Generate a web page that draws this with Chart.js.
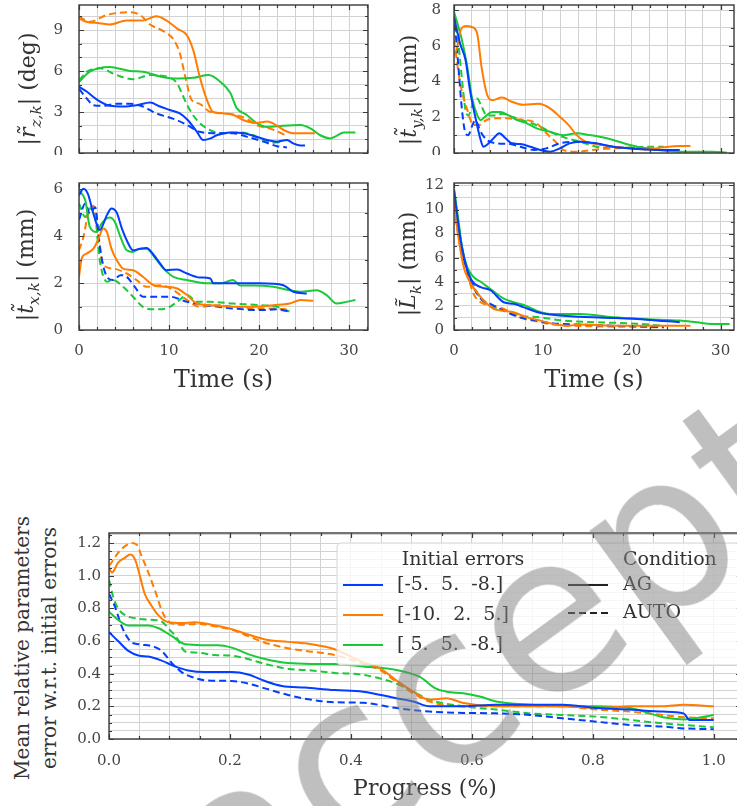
<!DOCTYPE html>
<html>
<head>
<meta charset="utf-8">
<script src="https://cdn.jsdelivr.net/npm/chart.js@4.4.0/dist/chart.umd.min.js"></script>
<style>
  html, body { margin: 0; padding: 0; background: #fff; }
  body { width: 737px; height: 806px; position: relative; overflow: hidden; }
  canvas { position: absolute; }
  .ytitle { position: absolute; transform: translate(-50%, -50%) rotate(-90deg); white-space: nowrap;
            font: 22px 'DejaVu Serif'; color: #333; }
  .ytitle sub { font-size: 70%; font-style: italic; }
  #wm { position: absolute; left: 120px; top: 790px; font: 220px 'DejaVu Sans'; line-height: 1;
        color: rgba(128,128,128,0.5); transform: rotate(-36deg); transform-origin: 0 0;
        white-space: nowrap; pointer-events: none; }
</style>
</head>
<body>
<canvas id="rz" width="328" height="155" style="left:43px;top:0"></canvas>
<canvas id="ty" width="319" height="155" style="left:418px;top:0"></canvas>
<canvas id="tx" width="328" height="225" style="left:43px;top:170px"></canvas>
<canvas id="lk" width="319" height="225" style="left:418px;top:170px"></canvas>
<canvas id="prog" width="671" height="282" style="left:70px;top:520px"></canvas>

<div class="ytitle" style="left:30px;top:89px">|<i>r&#771;</i><sub>z,k</sub>| (deg)</div>
<div class="ytitle" style="left:411px;top:90px">|<i>t&#771;</i><sub>y,k</sub>| (mm)</div>
<div class="ytitle" style="left:28px;top:265px">|<i>t&#771;</i><sub>x,k</sub>| (mm)</div>
<div class="ytitle" style="left:410px;top:264px">|<i>L&#771;</i><sub>k</sub>| (mm)</div>
<div class="ytitle" style="left:36px;top:648px;font-size:20px;line-height:27px;text-align:center">Mean relative parameters<br>error w.r.t. initial errors</div>

<div id="wm">accepted</div>

<script>
'use strict';

const blue = '#023eff';
const orange = '#ff7c00';
const green = '#1ac938';

// |r_z,k| (deg) vs time (s)
let rzBlueAG = [[0,4.85],[0.85,4.5],[2,3.9],[3.4,3.45],[4.9,3.4],[6.4,3.5],[7.9,3.7],[9,3.4],[10.1,3.15],[11.2,2.9],[12.1,2.4],[13.1,1.55],[13.8,0.95],[14.6,1.07],[15.3,1.3],[16.8,1.5],[18.3,1.45],[19.4,1.25],[20.9,0.95],[22,0.83],[23.1,0.95],[23.8,0.7],[24.6,0.55],[25.1,0.55]];
let rzOrangeAG = [[0,9.85],[0.8,9.6],[2.3,9.5],[3.4,9.4],[5.3,9.7],[7.1,9.7],[8.6,10.0],[9.7,9.7],[10.9,9.1],[12,8.6],[12.7,7.5],[13.4,5.6],[14.2,3.9],[14.9,3.0],[16,2.9],[17.1,2.8],[18.3,2.4],[19.7,2.2],[20.9,2.3],[22,2.0],[22.7,1.7],[23.8,1.45],[26.2,1.45]];
let rzGreenAG = [[0,5.2],[1.2,5.95],[3.4,6.3],[5.7,6.0],[7.1,5.95],[9,5.6],[10.5,5.45],[12.7,5.5],[14.4,5.7],[15.7,5.2],[16.8,4.4],[17.5,3.3],[18.6,2.8],[19.7,2.2],[20.9,1.9],[22.7,2.0],[24.6,2.05],[25.7,1.8],[26.8,1.3],[27.9,1.07],[28.6,1.25],[29.4,1.5],[30.7,1.5]];
let rzBlueAuto = [[0,4.7],[0.85,4.0],[1.6,3.5],[2.7,3.45],[4.2,3.6],[5.7,3.6],[7.1,3.4],[8.6,2.9],[10.5,2.5],[12,2.05],[13.4,1.55],[14.9,1.45],[17.1,1.45],[18.6,1.2],[20.5,0.83],[22,0.5],[23.1,0.41]];
let rzOrangeAuto = [[0,10.0],[1.2,9.6],[3.1,10.1],[5.5,10.3],[6.8,10.1],[7.9,9.4],[9.4,8.9],[10.5,8.3],[11.2,7.3],[11.8,5.6],[12.5,3.9],[13.4,3.6],[14.6,3.0],[16.4,2.9],[18.6,2.5],[19.7,2.05],[21.6,1.7],[23.2,1.2]];
let rzGreenAuto = [[0,5.3],[0.9,5.95],[2.3,6.2],[4.2,5.7],[6,5.4],[7.9,5.7],[9.7,5.6],[10.9,5.1],[11.4,4.4],[12.1,3.4],[13.1,2.4],[14.2,1.8],[15.7,1.45],[17.9,1.5],[19.4,1.3],[20.5,0.95],[21.6,0.75],[22.5,0.8]];

// |t_y,k| (mm)
let tyBlueAG = [[0,7.6],[0.7,6.1],[1.3,5.2],[1.8,3.5],[2.4,2.0],[3.0,0.73],[3.3,0.35],[3.9,0.54],[4.45,0.82],[5.1,1.1],[5.8,0.82],[6.5,0.54],[7.45,0.5],[8.6,0.35],[9.7,0.17],[10.8,0.07],[11.9,0.26],[13,0.54],[14.2,0.63],[16,0.54],[17.9,0.35],[21.7,0.2],[23.6,0.17],[25.4,0.17]];
let tyOrangeAG = [[0,5.5],[0.3,5.8],[0.7,6.8],[1.3,7.1],[2.0,7.05],[2.6,6.7],[3.1,4.8],[3.7,3.3],[4.3,2.95],[5.4,3.1],[6.5,2.87],[7.8,2.7],[9.5,2.75],[10.8,2.5],[11.9,2.03],[12.9,1.56],[13.8,1.0],[14.8,0.63],[16,0.5],[17.9,0.35],[19.8,0.26],[21.7,0.2],[23.6,0.32],[25.4,0.39],[26.6,0.39]];
let tyGreenAG = [[0,7.9],[0.9,6.3],[1.5,4.8],[2.0,3.15],[2.4,2.4],[3.0,1.84],[3.5,2.03],[4.3,2.3],[5.2,2.3],[6.1,2.12],[7.1,1.84],[8.2,1.66],[9.3,1.38],[10.8,1.19],[12.3,1.0],[13.8,1.1],[15.3,1.0],[16.4,0.91],[17.9,0.73],[19.8,0.45],[21.7,0.26],[25.4,0.07],[29.1,0.07],[30.7,0.02]];
let tyBlueAuto = [[0,7.8],[0.5,4.8],[0.9,2.4],[1.3,1.1],[1.6,1.0],[2.0,1.47],[2.4,1.84],[3.0,1.19],[3.7,0.73],[4.8,0.54],[6.3,0.5],[7.45,0.35],[9,0.17],[10.4,0.26],[11.9,0.54],[13.8,0.63],[15.7,0.54],[17.9,0.35],[21,0.25],[23,0.2]];
let tyOrangeAuto = [[0,6.3],[0.7,3.9],[1.5,2.4],[2.2,1.56],[2.8,1.56],[3.3,1.75],[4.5,1.94],[6,1.94],[7.1,1.88],[8.2,1.84],[9.3,1.66],[10.4,1.1],[11.6,0.54],[12.3,0.17],[13.8,0.07],[16.1,0.2],[19.8,0.3],[23,0.3]];
let tyGreenAuto = [[0,7.7],[0.5,6.1],[0.9,4.1],[1.3,2.4],[1.6,2.1],[2.2,2.87],[2.6,3.05],[3.1,2.6],[3.7,2.1],[4.45,2.1],[5.5,2.2],[6.7,2.0],[8.2,1.75],[9.7,1.47],[11.2,1.1],[12.7,0.82],[14.2,0.63],[16,0.35],[17.9,0.26],[21.7,0.35],[23.6,0.35]];

// |t_x,k| (mm)
let txBlueAG = [[0,5.75],[0.5,6.03],[1.0,5.8],[1.6,4.96],[2.3,4.26],[3.1,4.9],[3.6,5.18],[4.2,5.0],[4.7,4.4],[5.3,3.83],[6.0,3.4],[6.8,3.47],[7.5,3.5],[8.3,3.2],[9,2.84],[9.7,2.55],[10.9,2.58],[12,2.41],[13.4,2.24],[14.6,2.2],[14.9,1.99],[17.1,1.99],[20.1,1.99],[22.7,1.91],[23.8,1.63],[25.3,1.56]];
let txOrangeAG = [[0,2.27],[0.3,3.05],[0.85,3.26],[1.6,3.47],[2.1,3.83],[2.7,4.33],[3.1,4.18],[3.6,3.47],[4.2,2.98],[4.9,2.62],[6.0,2.55],[7.1,2.27],[8.3,1.91],[9.7,1.84],[10.9,1.77],[12,1.49],[13.1,1.13],[14.6,1.06],[17.1,0.99],[19.4,0.99],[21.6,1.06],[23.4,1.13],[24.6,1.28],[26,1.25]];
let txGreenAG = [[0,5.96],[0.7,5.53],[1.2,4.4],[2.0,4.18],[2.5,4.54],[3.4,4.8],[4.0,4.6],[4.6,3.97],[5.3,3.4],[6,3.33],[6.8,3.47],[7.5,3.47],[8.4,3.1],[9.4,2.62],[10.5,2.27],[12,2.13],[14.2,1.99],[15.7,1.99],[17.1,2.13],[17.9,1.9],[19.4,1.9],[21.6,1.84],[23.4,1.7],[24.6,1.63],[26.4,1.7],[27.5,1.49],[28.6,1.13],[29.7,1.2],[30.7,1.28]];
let txBlueAuto = [[0,4.7],[0.7,5.4],[1.2,4.96],[1.8,5.24],[2.3,3.55],[3.1,2.27],[3.8,2.13],[4.6,2.34],[5.3,2.27],[6.2,1.84],[7.1,1.42],[8.6,1.42],[10.1,1.42],[12,1.2],[14.2,1.06],[17.1,0.92],[20.1,0.85],[22,0.88],[23.4,0.78]];
let txOrangeAuto = [[0,3.4],[0.5,3.97],[1.0,4.96],[1.6,5.3],[2.1,4.26],[2.7,2.77],[3.8,2.62],[5.3,2.41],[6.4,2.13],[7.5,1.84],[9,1.91],[10.5,1.7],[12,1.28],[13.4,0.99],[15.3,1.06],[17.1,0.99],[19.4,0.92],[21.6,0.92],[23.3,0.88]];
let txGreenAuto = [[0,5.4],[0.7,4.82],[1.2,5.18],[1.8,4.82],[2.3,2.98],[3.1,2.06],[3.8,2.13],[4.9,1.84],[6,1.42],[7.1,0.99],[8.3,0.88],[9.7,0.92],[10.9,1.2],[12,1.49],[13.1,1.2],[14.6,1.2],[17.1,1.13],[20.1,1.06],[22,0.99],[23.4,0.78]];

// |L_k| (mm)
let lBlueAG = [[0,11.6],[0.7,7.7],[1.3,5.5],[2.0,4.1],[3,3.55],[4.1,3.3],[5.6,2.3],[6.7,2.17],[7.8,1.9],[9.3,1.5],[10.8,1.28],[14.2,1.1],[17.9,1.0],[21.7,0.86],[25.4,0.64]];
let lOrangeAG = [[0,10.8],[0.5,7.7],[1.1,5.2],[1.7,4.1],[2.4,3.3],[3.35,2.45],[4.45,1.75],[5.6,1.6],[6.7,1.47],[8.2,1.05],[9.7,0.78],[11.2,0.5],[12.7,0.36],[14.2,0.45],[17.9,0.36],[21.7,0.36],[26.6,0.36]];
let lGreenAG = [[0,11.75],[0.5,9.1],[0.9,6.9],[1.5,5.2],[2.2,4.4],[3,4.0],[4.1,3.4],[5.6,2.6],[6.7,2.3],[7.8,2.1],[9.3,1.6],[10.8,1.33],[14.2,1.33],[17.9,1.05],[21.7,0.9],[25.4,0.78],[27.3,0.64],[29.1,0.5],[31,0.5]];
let lBlueAuto = [[0,10.5],[0.7,7.2],[1.5,4.9],[2.2,3.55],[3,2.6],[4.1,2.17],[5.6,1.6],[7.4,1.05],[9.3,0.78],[11.2,0.55],[14.2,0.45],[17.9,0.36],[21.7,0.28],[23.6,0.22]];
let lOrangeAuto = [[0,10.2],[0.7,6.9],[1.5,4.7],[2.2,3.0],[3,2.3],[4.45,2.0],[5.6,1.75],[7.4,1.05],[9.3,0.72],[11.2,0.45],[14.2,0.33],[17.9,0.28],[23.6,0.22]];
let lGreenAuto = [[0,11.3],[0.7,7.7],[1.3,5.5],[2,4.1],[3,2.6],[4.1,2.0],[6,1.6],[7.4,1.2],[9.7,1.05],[12.3,0.78],[16.1,0.64],[19.8,0.55],[23.6,0.36]];

// mean relative parameters error vs progress
let pBlueAG = [[0,0.655],[0.015,0.6],[0.032,0.54],[0.05,0.51],[0.065,0.505],[0.087,0.48],[0.109,0.445],[0.131,0.42],[0.159,0.41],[0.203,0.41],[0.23,0.395],[0.258,0.355],[0.286,0.325],[0.324,0.315],[0.373,0.3],[0.42,0.29],[0.475,0.25],[0.503,0.23],[0.53,0.2],[0.586,0.2],[0.64,0.21],[0.696,0.21],[0.75,0.21],[0.806,0.19],[0.861,0.18],[0.916,0.168],[0.95,0.157],[0.96,0.117],[1.0,0.117]];
let pOrangeAG = [[0,1.05],[0.005,1.02],[0.015,1.08],[0.026,1.11],[0.035,1.13],[0.043,1.1],[0.051,1.0],[0.059,0.89],[0.068,0.83],[0.081,0.76],[0.098,0.715],[0.12,0.71],[0.142,0.715],[0.17,0.7],[0.203,0.673],[0.23,0.64],[0.258,0.61],[0.296,0.595],[0.335,0.58],[0.373,0.55],[0.42,0.47],[0.448,0.433],[0.475,0.36],[0.503,0.29],[0.53,0.24],[0.558,0.25],[0.586,0.22],[0.64,0.2],[0.696,0.2],[0.75,0.2],[0.806,0.19],[0.861,0.2],[0.916,0.2],[0.95,0.21],[1.0,0.2]];
let pGreenAG = [[0,0.78],[0.015,0.73],[0.032,0.695],[0.05,0.695],[0.065,0.695],[0.081,0.68],[0.104,0.63],[0.126,0.58],[0.153,0.575],[0.18,0.575],[0.203,0.56],[0.23,0.52],[0.258,0.49],[0.296,0.465],[0.335,0.46],[0.373,0.46],[0.42,0.444],[0.475,0.423],[0.514,0.38],[0.54,0.31],[0.558,0.29],[0.586,0.28],[0.613,0.26],[0.64,0.23],[0.696,0.21],[0.75,0.2],[0.806,0.2],[0.861,0.19],[0.894,0.157],[0.916,0.133],[0.95,0.12],[1.0,0.147]];
let pBlueAuto = [[0,0.89],[0.01,0.81],[0.021,0.69],[0.035,0.6],[0.05,0.58],[0.07,0.57],[0.087,0.54],[0.104,0.465],[0.12,0.41],[0.137,0.38],[0.159,0.36],[0.203,0.355],[0.23,0.34],[0.258,0.31],[0.296,0.27],[0.335,0.24],[0.373,0.225],[0.42,0.222],[0.475,0.19],[0.53,0.168],[0.586,0.16],[0.64,0.157],[0.696,0.147],[0.75,0.127],[0.806,0.106],[0.861,0.086],[0.916,0.076],[0.95,0.065],[1.0,0.06]];
let pOrangeAuto = [[0,1.06],[0.004,1.08],[0.015,1.14],[0.026,1.18],[0.037,1.2],[0.046,1.19],[0.054,1.12],[0.065,1.02],[0.076,0.91],[0.087,0.79],[0.098,0.72],[0.12,0.7],[0.148,0.705],[0.175,0.69],[0.203,0.67],[0.23,0.63],[0.258,0.59],[0.296,0.556],[0.324,0.54],[0.373,0.515],[0.42,0.46],[0.448,0.423],[0.475,0.35],[0.503,0.28],[0.53,0.23],[0.586,0.2],[0.64,0.2],[0.696,0.2],[0.75,0.2],[0.806,0.18],[0.861,0.168],[0.916,0.147],[0.95,0.133],[1.0,0.127]];
let pGreenAuto = [[0,0.975],[0.007,0.87],[0.015,0.8],[0.026,0.76],[0.043,0.74],[0.07,0.73],[0.087,0.72],[0.1,0.67],[0.112,0.62],[0.126,0.536],[0.142,0.53],[0.175,0.515],[0.203,0.51],[0.23,0.49],[0.258,0.46],[0.296,0.43],[0.335,0.42],[0.373,0.405],[0.42,0.393],[0.475,0.34],[0.503,0.29],[0.53,0.24],[0.586,0.2],[0.64,0.18],[0.696,0.157],[0.75,0.147],[0.806,0.137],[0.861,0.117],[0.916,0.096],[1.0,0.072]];

let legendErrors = ['[-5.  5.  -8.]', '[-10.  2.  5.]', '[ 5.  5.  -8.]'];
let legendConditions = ['AG', 'AUTO'];

const serif = "'DejaVu Serif'";
const gridColor = '#d2d2d2';
const frameColor = '#3a3a3a';

function isMult(v, step) {
    let r = v / step;
    return Math.abs(r - Math.round(r)) < 1e-6;
}

// matplotlib style frame + inward ticks on all four sides
const frameTicks = {
    id: 'frameTicks',
    afterDatasetsDraw(chart, args, o) {
        const { ctx, chartArea: a } = chart;
        const sx = chart.scales.x, sy = chart.scales.y;
        ctx.save();
        ctx.strokeStyle = frameColor;
        ctx.lineWidth = 1.2;
        ctx.beginPath();
        for (let v = 0; v <= sx.max + 1e-9; v += o.xMinor) {
            let len = isMult(v, o.xMajor) ? 5 : 3;
            let px = Math.round(sx.getPixelForValue(v)) + 0.5;
            ctx.moveTo(px, a.bottom); ctx.lineTo(px, a.bottom - len);
            ctx.moveTo(px, a.top); ctx.lineTo(px, a.top + len);
        }
        for (let v = 0; v <= sy.max + 1e-9; v += o.yMinor) {
            let len = isMult(v, o.yMajor) ? 5 : 3;
            let py = Math.round(sy.getPixelForValue(v)) + 0.5;
            ctx.moveTo(a.left, py); ctx.lineTo(a.left + len, py);
            ctx.moveTo(a.right, py); ctx.lineTo(a.right - len, py);
        }
        ctx.stroke();
        ctx.lineWidth = 1.4;
        ctx.strokeRect(a.left, a.top, a.right - a.left, a.bottom - a.top);
        ctx.restore();
    }
};

// two-column legend with headers, drawn on the progress chart
const legendBox = {
    id: 'legendBox',
    afterDraw(chart) {
        const ctx = chart.ctx;
        ctx.save();
        ctx.beginPath();
        ctx.roundRect(267, 23, 420, 122, 4);
        ctx.fillStyle = 'rgba(255,255,255,0.8)';
        ctx.fill();
        ctx.strokeStyle = '#d6d6d6';
        ctx.lineWidth = 1;
        ctx.stroke();

        ctx.font = '19px ' + serif;
        ctx.fillStyle = '#333';
        ctx.textBaseline = 'middle';
        ctx.textAlign = 'center';
        ctx.fillText('Initial errors', 393, 40);
        ctx.textAlign = 'left';
        ctx.fillText('Condition', 553, 40);

        let cols = [blue, orange, green];
        for (let i = 0; i < legendErrors.length; i++) {
            let y = 65 + i * 30;
            ctx.beginPath();
            ctx.strokeStyle = cols[i];
            ctx.lineWidth = 2;
            ctx.moveTo(273, y); ctx.lineTo(313, y);
            ctx.stroke();
            ctx.fillText(legendErrors[i], 327, y);
        }
        for (let i = 0; i < legendConditions.length; i++) {
            let y = 65 + i * 28;
            ctx.beginPath();
            ctx.strokeStyle = '#222';
            ctx.lineWidth = 2;
            ctx.setLineDash(i === 0 ? [] : [7, 4]);
            ctx.moveTo(498, y); ctx.lineTo(538, y);
            ctx.stroke();
            ctx.setLineDash([]);
            ctx.fillText(legendConditions[i], 553, y);
        }
        ctx.restore();
    }
};

function line(pts, color, dashed) {
    return {
        data: pts.map(p => ({ x: p[0], y: p[1] })),
        borderColor: color,
        borderWidth: 2,
        borderDash: dashed ? [7, 4] : [],
        pointRadius: 0,
        fill: false,
        cubicInterpolationMode: 'monotone'
    };
}

function fitX(c) {
    return s => { s.height = c.xHeight; s.paddingLeft = 0; s.paddingRight = 0; s.paddingTop = 0; s.paddingBottom = 0; };
}
function fitY(c) {
    return s => { s.width = c.yWidth; s.paddingLeft = 0; s.paddingRight = 0; s.paddingTop = 0; s.paddingBottom = 0; };
}

function makeChart(id, datasets, c) {
    let fmt = c.decimals ? (v => v.toFixed(c.decimals)) : (v => String(Math.round(v)));
    return new Chart(document.getElementById(id), {
        type: 'line',
        data: { datasets: datasets },
        plugins: c.extra ? [frameTicks, c.extra] : [frameTicks],
        options: {
            responsive: false,
            animation: false,
            layout: { padding: c.pad },
            plugins: {
                legend: { display: false },
                tooltip: { enabled: false },
                frameTicks: { xMinor: c.xMinor, xMajor: c.xMajor, yMinor: c.yMinor, yMajor: c.yMajor }
            },
            scales: {
                x: {
                    type: 'linear', min: 0, max: c.xmax,
                    afterFit: fitX(c),
                    grid: { color: gridColor, lineWidth: 1, drawTicks: false },
                    border: { display: false },
                    ticks: {
                        display: c.xLabels, stepSize: c.xMinor, autoSkip: false, includeBounds: false,
                        maxRotation: 0, padding: c.xPad, color: '#444', font: { family: serif, size: 15 },
                        callback: v => isMult(v, c.xMajor) ? fmt(v) : ''
                    },
                    title: {
                        display: !!c.xTitle, text: c.xTitle, color: '#333', padding: 0,
                        font: { family: serif, size: c.xTitleSize }
                    }
                },
                y: {
                    type: 'linear', min: 0, max: c.ymax,
                    afterFit: fitY(c),
                    grid: { color: gridColor, lineWidth: 1, drawTicks: false },
                    border: { display: false },
                    ticks: {
                        stepSize: c.yMinor, autoSkip: false, includeBounds: false,
                        padding: c.yPad, color: '#444', font: { family: serif, size: 15 },
                        callback: v => isMult(v, c.yMajor) ? fmt(v) : ''
                    }
                }
            }
        }
    });
}

function six(bAG, oAG, gAG, bAU, oAU, gAU) {
    return [line(bAG, blue, false), line(oAG, orange, false), line(gAG, green, false),
            line(bAU, blue, true), line(oAU, orange, true), line(gAU, green, true)];
}

makeChart('rz', six(rzBlueAG, rzOrangeAG, rzGreenAG, rzBlueAuto, rzOrangeAuto, rzGreenAuto), {
    xmax: 32.1, ymax: 10.83, xMinor: 2, xMajor: 10, yMinor: 1, yMajor: 3,
    yWidth: 36, xHeight: 2, pad: { left: 0, right: 3, top: 5, bottom: 0 },
    xLabels: false, yPad: 16, xPad: 0
});
makeChart('ty', six(tyBlueAG, tyOrangeAG, tyGreenAG, tyBlueAuto, tyOrangeAuto, tyGreenAuto), {
    xmax: 31.5, ymax: 8.28, xMinor: 2, xMajor: 10, yMinor: 1, yMajor: 2,
    yWidth: 36, xHeight: 2, pad: { left: 0, right: 3, top: 5, bottom: 0 },
    xLabels: false, yPad: 13, xPad: 0
});
makeChart('tx', six(txBlueAG, txOrangeAG, txGreenAG, txBlueAuto, txOrangeAuto, txGreenAuto), {
    xmax: 32.1, ymax: 6.27, xMinor: 2, xMajor: 10, yMinor: 1, yMajor: 2,
    yWidth: 36, xHeight: 65, pad: { left: 0, right: 3, top: 13, bottom: 0 },
    xLabels: true, yPad: 16, xPad: 12, xTitle: 'Time (s)', xTitleSize: 24
});
makeChart('lk', six(lBlueAG, lOrangeAG, lGreenAG, lBlueAuto, lOrangeAuto, lGreenAuto), {
    xmax: 31.5, ymax: 12.2, xMinor: 2, xMajor: 10, yMinor: 1, yMajor: 2,
    yWidth: 36, xHeight: 65, pad: { left: 0, right: 3, top: 13, bottom: 0 },
    xLabels: true, yPad: 10, xPad: 12, xTitle: 'Time (s)', xTitleSize: 24
});
makeChart('prog', six(pBlueAG, pOrangeAG, pGreenAG, pBlueAuto, pOrangeAuto, pGreenAuto), {
    xmax: 1.045, ymax: 1.262, xMinor: 0.05, xMajor: 0.2, yMinor: 0.05, yMajor: 0.2,
    yWidth: 39, xHeight: 63, pad: { left: 0, right: 0, top: 13, bottom: 0 },
    xLabels: true, yPad: 8, xPad: 13, xTitle: 'Progress (%)', xTitleSize: 22, decimals: 1,
    extra: legendBox
});
</script>
</body>
</html>
